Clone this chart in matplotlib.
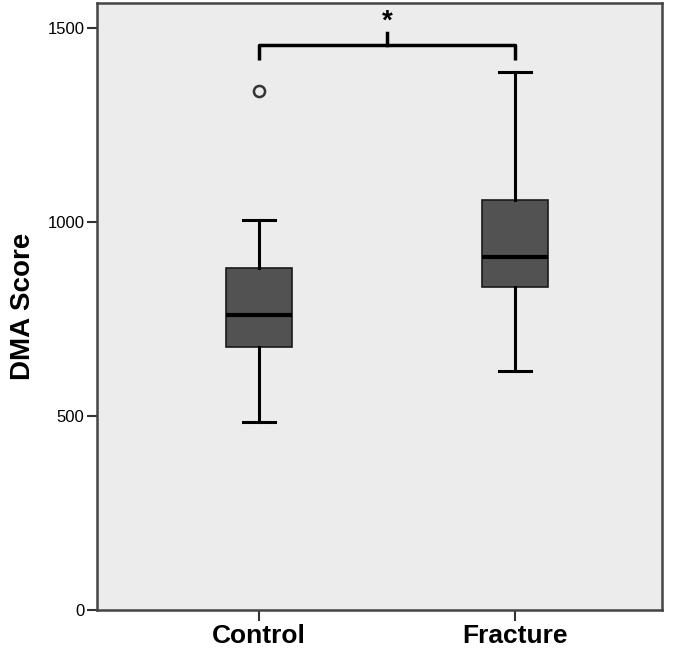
import matplotlib.pyplot as plt

# group labels and box statistics
groups = ['Control', 'Fracture']
q1 = [677, 833]
medians = [761, 909]
q3 = [882, 1057]
whisker_low = [484, 617]
whisker_high = [1005, 1386]
outliers = [[1336], []]

# significance bracket
bracket_y = 1456
bracket_leg = 1418
bracket_tip = 1487
star_y = 1517

plt.rcParams['font.family'] = ['Liberation Sans', 'DejaVu Sans']

fig = plt.figure(figsize=(6.77, 6.51), dpi=100)
ax = fig.add_axes([0.1433, 0.063, 0.835, 0.9324])
ax.set_facecolor('#ececec')

stats = []
for i, g in enumerate(groups):
    stats.append({'label': g, 'q1': q1[i], 'med': medians[i], 'q3': q3[i],
                  'whislo': whisker_low[i], 'whishi': whisker_high[i],
                  'fliers': outliers[i]})

pos = [1, 2]
ax.bxp(stats, positions=pos, widths=0.258, patch_artist=True,
       boxprops=dict(facecolor='#525252', edgecolor='#1a1a1a', linewidth=1.2),
       medianprops=dict(color='black', linewidth=3),
       whiskerprops=dict(color='black', linewidth=2.2),
       capprops=dict(color='black', linewidth=2.2),
       capwidths=0.125,
       flierprops=dict(marker='o', markerfacecolor='none', markeredgecolor='#333333',
                       markersize=8, markeredgewidth=1.8))

# bracket
ax.plot([pos[0], pos[0], pos[1], pos[1]], [bracket_leg, bracket_y, bracket_y, bracket_leg],
        color='black', linewidth=2.5, solid_capstyle='butt')
mid = (pos[0] + pos[1]) / 2
ax.plot([mid, mid], [bracket_y, bracket_tip], color='black', linewidth=2.5)
ax.text(mid, star_y, '*', ha='center', va='center', fontsize=20, fontweight='bold')

ax.set_xlim(0.367, 2.574)
ax.set_ylim(0, 1564)
ax.set_xticks(pos)
ax.set_xticklabels(groups, fontsize=19, fontweight='bold')
ax.set_yticks([0, 500, 1000, 1500])
ax.tick_params(axis='y', labelsize=12, length=7, width=1.5, color='#333333', pad=2)
ax.tick_params(axis='x', length=8, width=1.5, color='#333333', pad=2)
ax.set_ylabel('DMA Score', fontsize=20, fontweight='bold', labelpad=8)

for s in ax.spines.values():
    s.set_color('#444444')
    s.set_linewidth(1.8)

fig.savefig('out.png', dpi=100)
